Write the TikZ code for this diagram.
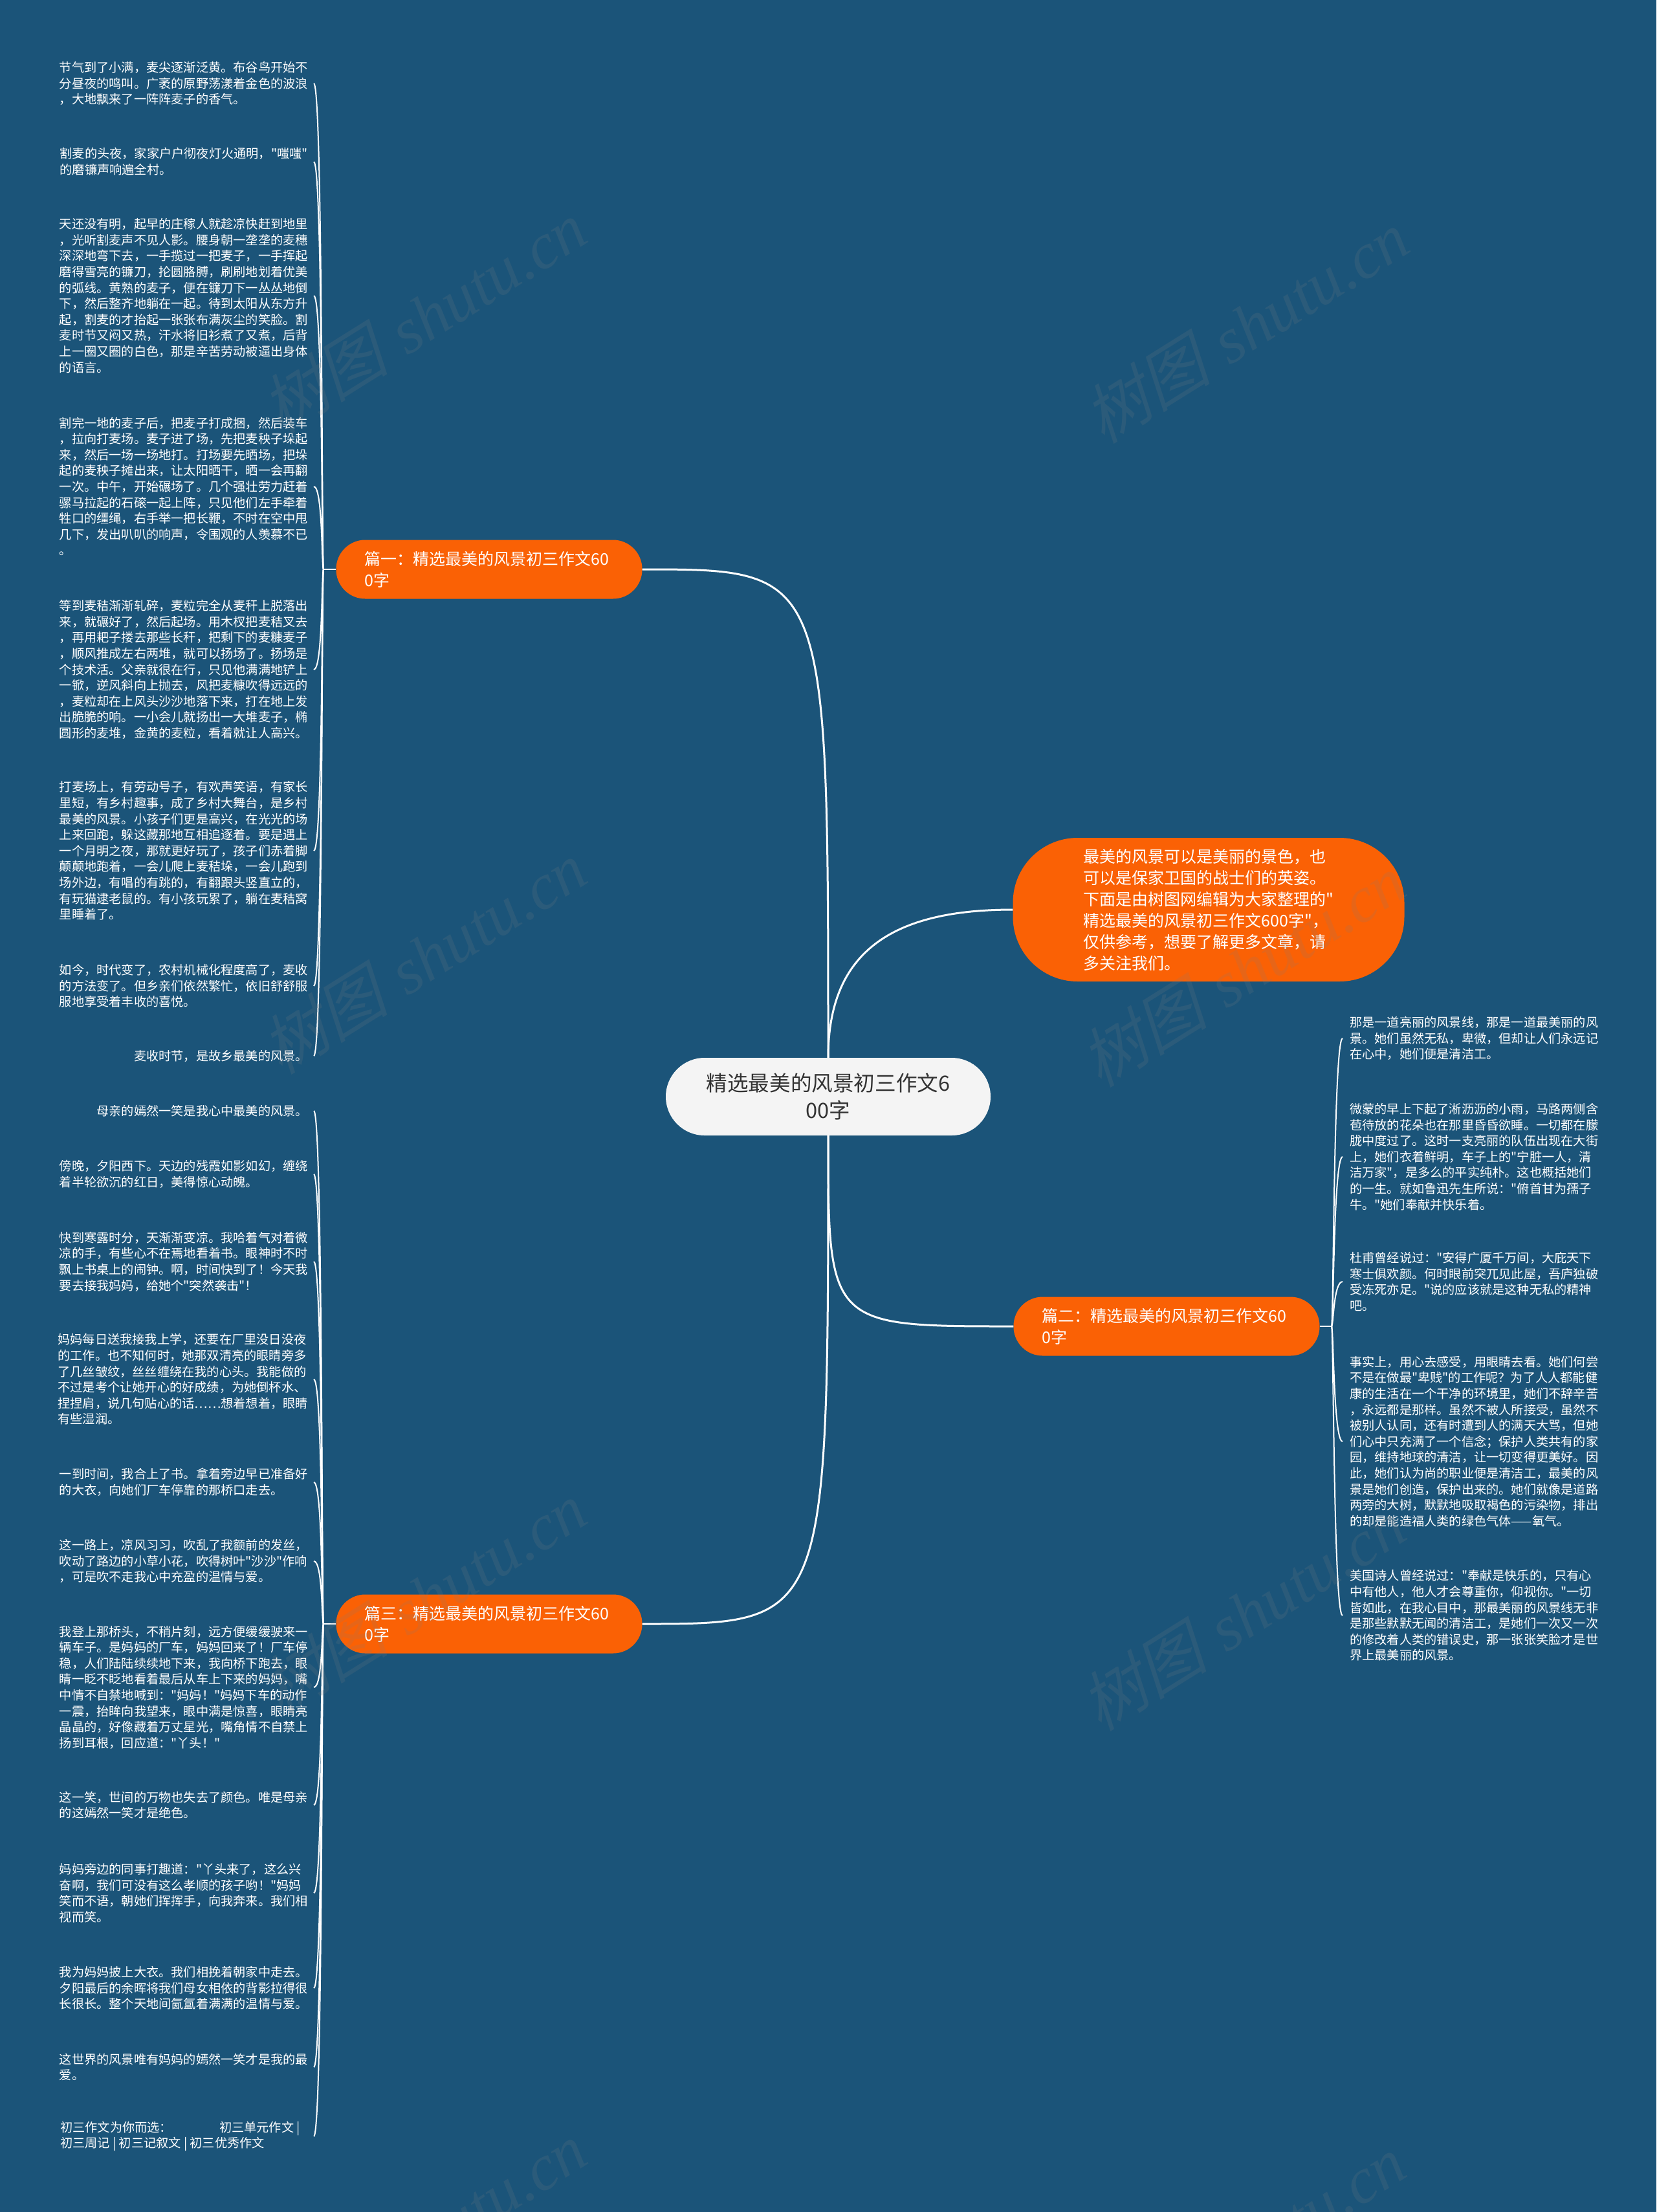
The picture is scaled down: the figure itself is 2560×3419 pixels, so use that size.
\documentclass[tikz,border=0pt]{standalone}
\usepackage{fontspec}
\newfontfamily\cjk{Noto Sans CJK SC}
\newfontfamily\cjkslant[FakeSlant=0.25]{Noto Sans CJK SC}
\newfontfamily\wmlat{Liberation Serif}
\definecolor{bgc}{HTML}{1B5479}
\definecolor{orangec}{HTML}{FA6105}
\definecolor{rootc}{HTML}{F4F4F4}
\definecolor{darktext}{HTML}{333333}
\tikzset{
  body/.style={font=\cjk\fontsize{19.2}{24.6}\selectfont, text=white, align=left, inner ysep=0pt},
  lbody/.style={body, anchor=east, inner xsep=9pt},
  rbody/.style={body, anchor=west, inner xsep=11pt},
  branch/.style={fill=orangec, rounded corners=45pt, text=white, font=\cjk\fontsize{25}{33}\selectfont, text width=385pt, align=left, inner xsep=44pt, inner ysep=0pt, minimum height=91pt},
  conn/.style={draw=white, line width=2pt},
  mainconn/.style={draw=white, line width=3pt},
  wm/.style={rotate=32, text=gray, opacity=0.16, font=\fontsize{100}{110}\selectfont}
}
\begin{document}
\begin{tikzpicture}[x=1pt,y=-1pt]
\useasboundingbox (0,0) rectangle (2560,3419);
\fill[bgc] (0,0) rectangle (2560,3419);

% root and first level
\node[fill=rootc, rounded corners=60pt, minimum width=502pt, minimum height=120pt, inner sep=0pt,
      font=\cjk\fontsize{32.6}{42}\selectfont, text=darktext, align=center] (root) at (1280,1695)
      {精选最美的风景初三作文6\\00字};
\node[fill=orangec, rounded corners=100pt, minimum width=605pt, minimum height=222pt, inner sep=0pt,
      font=\cjk\fontsize{25}{33}\selectfont, text=white, align=left] (intro) at (1868,1406)
      {最美的风景可以是美丽的景色，也\\可以是保家卫国的战士们的英姿。\\下面是由树图网编辑为大家整理的"\\精选最美的风景初三作文600字"，\\仅供参考，想要了解更多文章，请\\多关注我们。};
\node[branch] (p1) at (756,880) {篇一：精选最美的风景初三作文60\\0字};
\node[branch] (p2) at (1803,2050) {篇二：精选最美的风景初三作文60\\0字};
\node[branch] (p3) at (756,2510) {篇三：精选最美的风景初三作文60\\0字};

\draw[mainconn] (root.north) .. controls (1280,880) .. (p1.east);
\draw[mainconn] (root.north) .. controls (1280,1470) and (1380,1406) .. (intro.west);
\draw[mainconn] (root.south) .. controls (1280,2050) .. (p2.west);
\draw[mainconn] (root.south) .. controls (1280,2510) .. (p3.east);

\coordinate (J1) at (500,880);
\coordinate (J2) at (2058,2050);
\coordinate (J3) at (500,2510);
\draw[conn] (p1.west) -- (J1);
\draw[conn] (p2.east) -- (J2);
\draw[conn] (p3.west) -- (J3);

% 篇一 children
\node[lbody] (b1) at (485,129) {节气到了小满，麦尖逐渐泛黄。布谷鸟开始不\\分昼夜的鸣叫。广袤的原野荡漾着金色的波浪\\，大地飘来了一阵阵麦子的香气。};
\node[lbody] (b2) at (485,250) {割麦的头夜，家家户户彻夜灯火通明，"嗤嗤"\\的磨镰声响遍全村。};
\node[lbody] (b3) at (485,457) {天还没有明，起早的庄稼人就趁凉快赶到地里\\，光听割麦声不见人影。腰身朝一垄垄的麦穗\\深深地弯下去，一手揽过一把麦子，一手挥起\\磨得雪亮的镰刀，抡圆胳膊，刷刷地划着优美\\的弧线。黄熟的麦子，便在镰刀下一丛丛地倒\\下，然后整齐地躺在一起。待到太阳从东方升\\起，割麦的才抬起一张张布满灰尘的笑脸。割\\麦时节又闷又热，汗水将旧衫煮了又煮，后背\\上一圈又圈的白色，那是辛苦劳动被逼出身体\\的语言。};
\node[lbody] (b4) at (485,752) {割完一地的麦子后，把麦子打成捆，然后装车\\，拉向打麦场。麦子进了场，先把麦秧子垛起\\来，然后一场一场地打。打场要先晒场，把垛\\起的麦秧子摊出来，让太阳晒干，晒一会再翻\\一次。中午，开始碾场了。几个强壮劳力赶着\\骡马拉起的石磙一起上阵，只见他们左手牵着\\牲口的缰绳，右手举一把长鞭，不时在空中甩\\几下，发出叭叭的响声，令围观的人羡慕不已\\。};
\node[lbody] (b5) at (485,1035) {等到麦秸渐渐轧碎，麦粒完全从麦秆上脱落出\\来，就碾好了，然后起场。用木杈把麦秸叉去\\，再用耙子搂去那些长秆，把剩下的麦糠麦子\\，顺风推成左右两堆，就可以扬场了。扬场是\\个技术活。父亲就很在行，只见他满满地铲上\\一锨，逆风斜向上抛去，风把麦糠吹得远远的\\，麦粒却在上风头沙沙地落下来，打在地上发\\出脆脆的响。一小会儿就扬出一大堆麦子，椭\\圆形的麦堆，金黄的麦粒，看着就让人高兴。};
\node[lbody] (b6) at (485,1315) {打麦场上，有劳动号子，有欢声笑语，有家长\\里短，有乡村趣事，成了乡村大舞台，是乡村\\最美的风景。小孩子们更是高兴，在光光的场\\上来回跑，躲这藏那地互相追逐着。要是遇上\\一个月明之夜，那就更好玩了，孩子们赤着脚\\颠颠地跑着，一会儿爬上麦秸垛，一会儿跑到\\场外边，有唱的有跳的，有翻跟头竖直立的，\\有玩猫逮老鼠的。有小孩玩累了，躺在麦秸窝\\里睡着了。};
\node[lbody] (b7) at (485,1524) {如今，时代变了，农村机械化程度高了，麦收\\的方法变了。但乡亲们依然繁忙，依旧舒舒服\\服地享受着丰收的喜悦。};
\node[lbody] (b8) at (485,1632) {麦收时节，是故乡最美的风景。};

% 篇三 children
\node[lbody] (b9) at (485,1717) {母亲的嫣然一笑是我心中最美的风景。};
\node[lbody] (b10) at (485,1815) {傍晚，夕阳西下。天边的残霞如影如幻，缠绕\\着半轮欲沉的红日，美得惊心动魄。};
\node[lbody] (b11) at (485,1950) {快到寒露时分，天渐渐变凉。我哈着气对着微\\凉的手，有些心不在焉地看着书。眼神时不时\\飘上书桌上的闹钟。啊，时间快到了！今天我\\要去接我妈妈，给她个"突然袭击"！};
\node[lbody] (b12) at (485,2132) {妈妈每日送我接我上学，还要在厂里没日没夜\\的工作。也不知何时，她那双清亮的眼睛旁多\\了几丝皱纹，丝丝缠绕在我的心头。我能做的\\不过是考个让她开心的好成绩，为她倒杯水、\\捏捏肩，说几句贴心的话……想着想着，眼睛\\有些湿润。};
\node[lbody] (b13) at (485,2291) {一到时间，我合上了书。拿着旁边早已准备好\\的大衣，向她们厂车停靠的那桥口走去。};
\node[lbody] (b14) at (485,2413) {这一路上，凉风习习，吹乱了我额前的发丝，\\吹动了路边的小草小花，吹得树叶"沙沙"作响\\，可是吹不走我心中充盈的温情与爱。};
\node[lbody] (b15) at (485,2608) {我登上那桥头，不稍片刻，远方便缓缓驶来一\\辆车子。是妈妈的厂车，妈妈回来了！厂车停\\稳，人们陆陆续续地下来，我向桥下跑去，眼\\睛一眨不眨地看着最后从车上下来的妈妈，嘴\\中情不自禁地喊到："妈妈！"妈妈下车的动作\\一震，抬眸向我望来，眼中满是惊喜，眼睛亮\\晶晶的，好像藏着万丈星光，嘴角情不自禁上\\扬到耳根，回应道："丫头！"};
\node[lbody] (b16) at (485,2790) {这一笑，世间的万物也失去了颜色。唯是母亲\\的这嫣然一笑才是绝色。};
\node[lbody] (b17) at (485,2926) {妈妈旁边的同事打趣道："丫头来了，这么兴\\奋啊，我们可没有这么孝顺的孩子哟！"妈妈\\笑而不语，朝她们挥挥手，向我奔来。我们相\\视而笑。};
\node[lbody] (b18) at (485,3073) {我为妈妈披上大衣。我们相挽着朝家中走去。\\夕阳最后的余晖将我们母女相依的背影拉得很\\长很长。整个天地间氤氲着满满的温情与爱。};
\node[lbody] (b19) at (485,3195) {这世界的风景唯有妈妈的嫣然一笑才是我的最\\爱。};
\node[lbody] (b20) at (485,3302) {初三作文为你而选：\hspace*{73pt}初三单元作文 |\hspace*{12pt}\\初三周记 | 初三记叙文 | 初三优秀作文};

% 篇二 children
\node[rbody] (r1) at (2075,1605) {那是一道亮丽的风景线，那是一道最美丽的风\\景。她们虽然无私，卑微，但却让人们永远记\\在心中，她们便是清洁工。};
\node[rbody] (r2) at (2075,1788) {微蒙的早上下起了淅沥沥的小雨，马路两侧含\\苞待放的花朵也在那里昏昏欲睡。一切都在朦\\胧中度过了。这时一支亮丽的队伍出现在大街\\上，她们衣着鲜明，车子上的"宁脏一人，清\\洁万家"，是多么的平实纯朴。这也概括她们\\的一生。就如鲁迅先生所说："俯首甘为孺子\\牛。"她们奉献并快乐着。};
\node[rbody] (r3) at (2075,1981) {杜甫曾经说过："安得广厦千万间，大庇天下\\寒士俱欢颜。何时眼前突兀见此屋，吾庐独破\\受冻死亦足。"说的应该就是这种无私的精神\\吧。};
\node[rbody] (r4) at (2075,2228) {事实上，用心去感受，用眼睛去看。她们何尝\\不是在做最"卑贱"的工作呢？为了人人都能健\\康的生活在一个干净的环境里，她们不辞辛苦\\，永远都是那样。虽然不被人所接受，虽然不\\被别人认同，还有时遭到人的满天大骂，但她\\们心中只充满了一个信念；保护人类共有的家\\园，维持地球的清洁，让一切变得更美好。因\\此，她们认为尚的职业便是清洁工，最美的风\\景是她们创造，保护出来的。她们就像是道路\\两旁的大树，默默地吸取褐色的污染物，排出\\的却是能造福人类的绿色气体——氧气。};
\node[rbody] (r5) at (2075,2497) {美国诗人曾经说过："奉献是快乐的，只有心\\中有他人，他人才会尊重你，仰视你。"一切\\皆如此，在我心目中，那最美丽的风景线无非\\是那些默默无闻的清洁工，是她们一次又一次\\的修改着人类的错误史，那一张张笑脸才是世\\界上最美丽的风景。};

% child connectors
\foreach \c in {b1,b2,b3,b4,b5,b6,b7,b8}
  \draw[conn] (J1) .. controls +(-3,0) and +(14,0) .. (\c.east);
\foreach \c in {b9,b10,b11,b12,b13,b14,b15,b16,b17,b18,b19,b20}
  \draw[conn] (J3) .. controls +(-3,0) and +(14,0) .. (\c.east);
\foreach \c in {r1,r2,r3,r4,r5}
  \draw[conn] (J2) .. controls +(3,0) and +(-14,0) .. (\c.west);

% watermarks
\begin{scope}
\clip (0,0) rectangle (2560,3419);
\foreach \n/\px/\py in {wm1/654/490, wm2/1925/505, wm3/654/1480, wm4/1920/1500, wm5/654/2470, wm6/1920/2495, wm7/654/3460, wm8/1920/3480}
  \node[wm] (\n) at (\px,\py) {{\cjkslant 树图} {\wmlat\itshape shutu.cn}};
\end{scope}
\end{tikzpicture}
\end{document}
